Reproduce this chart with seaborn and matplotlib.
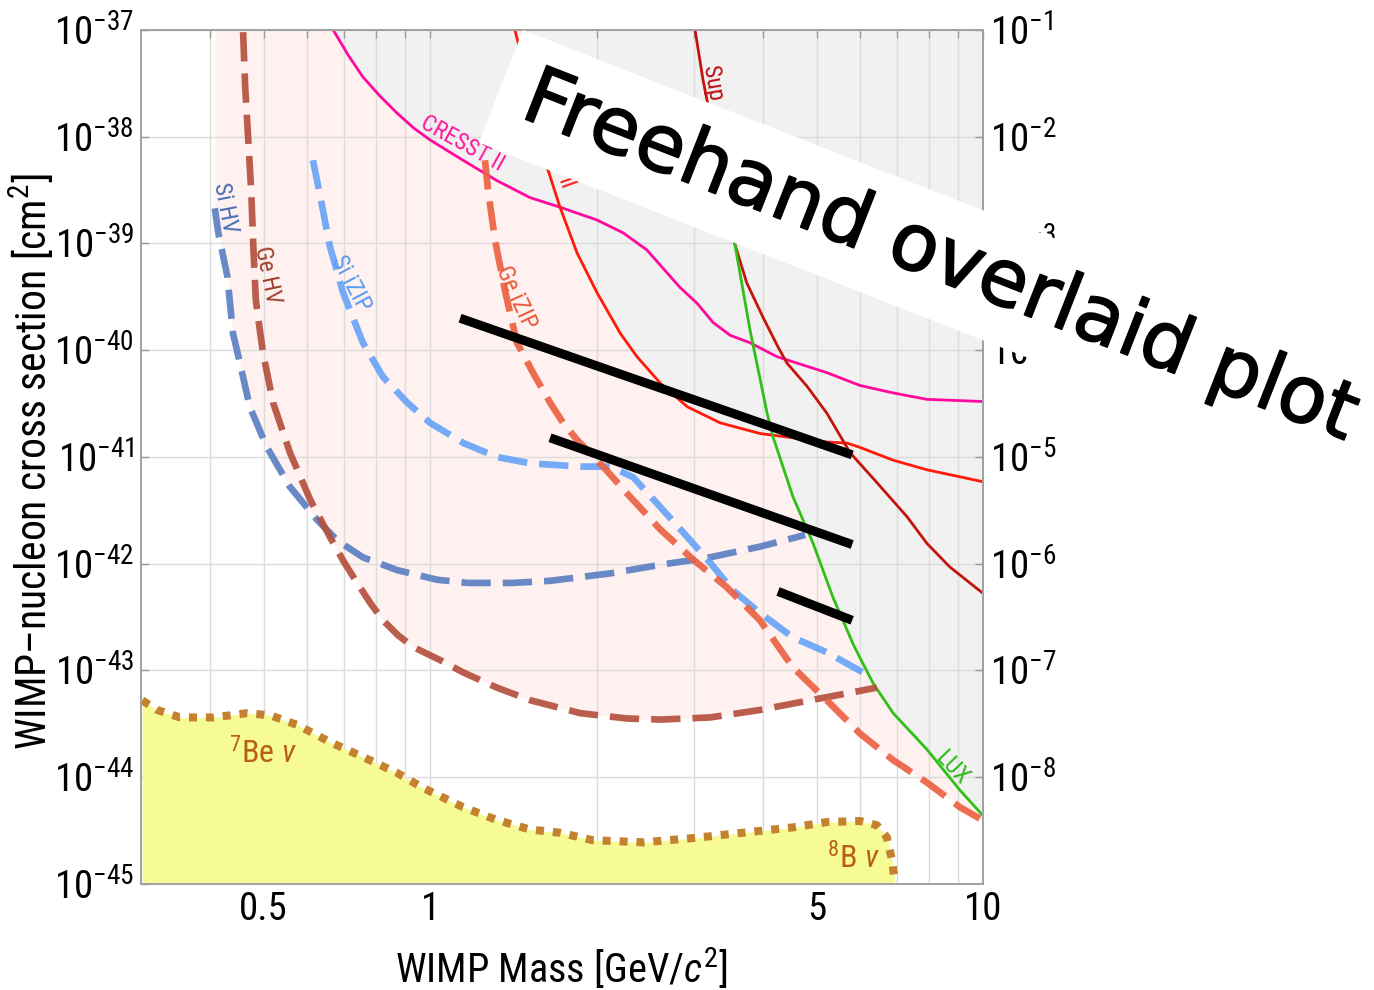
import numpy as np
import pandas as pd
import matplotlib
matplotlib.use("Agg")
import matplotlib.pyplot as plt
import matplotlib.patheffects as pe
from matplotlib import font_manager
from matplotlib.patches import Polygon
from matplotlib.ticker import NullLocator
import seaborn as sns

# ---- data: WIMP mass [GeV/c^2] and log10(cross section [cm^2]) ----
si_hv_mass = [0.408, 0.414, 0.430, 0.440, 0.453, 0.472, 0.507, 0.558, 0.625, 0.679, 0.756, 0.872,
              1.03, 1.17, 1.41, 1.65, 2.12, 2.61, 3.21, 3.95, 4.77]
si_hv_logsig = [-38.67, -38.90, -39.31, -39.84, -40.12, -40.53, -40.91, -41.28, -41.59, -41.78, -41.94, -42.06,
                -42.15, -42.18, -42.18, -42.16, -42.09, -42.01, -41.94, -41.84, -41.73]

ge_hv_mass = [0.459, 0.463, 0.469, 0.475, 0.479, 0.484, 0.493, 0.499, 0.520, 0.558, 0.607, 0.659, 0.698, 0.738,
              0.780, 0.822, 0.875, 0.932, 1.04, 1.15, 1.32, 1.52, 1.87, 2.27, 2.61, 3.21, 3.95, 4.86, 5.74, 6.43]
ge_hv_logsig = [-37.02, -37.53, -38.03, -38.53, -39.03, -39.53, -39.84, -40.03, -40.49, -40.96, -41.40, -41.75,
                -41.98, -42.18, -42.37, -42.53, -42.67, -42.78, -42.90, -43.02, -43.16, -43.28, -43.40, -43.45,
                -43.46, -43.44, -43.37, -43.28, -43.21, -43.16]

si_izip_mass = [0.614, 0.633, 0.659, 0.696, 0.756, 0.822, 0.909, 1.0, 1.15, 1.32, 1.52, 1.87, 2.12, 2.33,
                2.61, 2.92, 3.21, 3.53, 3.95, 4.53, 5.22, 6.17]
si_izip_logsig = [-38.22, -38.56, -39.03, -39.46, -39.93, -40.25, -40.49, -40.68, -40.87, -41.00, -41.06, -41.09,
                  -41.09, -41.19, -41.47, -41.75, -41.99, -42.25, -42.46, -42.69, -42.83, -43.04]

ge_izip_mass = [1.257, 1.273, 1.311, 1.366, 1.436, 1.535, 1.648, 1.740, 1.845, 2.056, 2.27, 2.61, 2.99, 3.44,
                3.95, 4.53, 5.22, 5.99, 6.88, 7.92, 9.08, 9.96]
ge_izip_logsig = [-38.22, -38.50, -38.97, -39.44, -39.93, -40.21, -40.49, -40.68, -40.84, -41.09, -41.34, -41.68,
                  -41.96, -42.22, -42.53, -42.97, -43.28, -43.59, -43.84, -44.05, -44.28, -44.40]

cresst_mass = [0.668, 0.712, 0.756, 0.812, 0.872, 0.935, 1.0, 1.147, 1.32, 1.516, 1.718, 2.004, 2.234, 2.466,
               2.83, 3.04, 3.25, 3.49, 3.79, 4.24, 5.22, 5.99, 6.88, 7.92, 9.96]
cresst_logsig = [-37.00, -37.24, -37.44, -37.62, -37.78, -37.92, -38.03, -38.22, -38.41, -38.57, -38.66, -38.78,
                 -38.90, -39.06, -39.41, -39.56, -39.74, -39.86, -39.93, -40.06, -40.21, -40.33, -40.40, -40.46,
                 -40.48]

cdmslite_mass = [1.424, 1.443, 1.516, 1.634, 1.718, 1.845, 2.004, 2.207, 2.367, 2.61, 2.92, 3.346, 3.95, 4.53,
                 5.22, 5.68, 5.99, 6.88, 7.92, 9.96]
cdmslite_logsig = [-37.00, -37.12, -37.66, -38.31, -38.66, -39.09, -39.46, -39.84, -40.06, -40.31, -40.53, -40.68,
                   -40.78, -40.82, -40.86, -40.87, -40.91, -41.03, -41.12, -41.23]

supercdms_mass = [3.015, 3.117, 3.17, 3.346, 3.56, 3.74, 4.00, 4.26, 4.42, 4.81, 5.22, 5.75, 6.43, 7.29, 7.92,
                  8.71, 9.96]
supercdms_logsig = [-37.00, -37.47, -37.66, -38.31, -39.01, -39.37, -39.69, -39.97, -40.12, -40.34, -40.59, -40.96,
                    -41.24, -41.56, -41.81, -42.03, -42.27]

lux_mass = [3.43, 3.56, 3.79, 4.07, 4.17, 4.53, 4.93, 5.35, 5.82, 5.99, 6.33, 6.88, 7.92, 9.08, 9.96]
lux_logsig = [-38.41, -39.01, -39.81, -40.59, -40.81, -41.37, -41.81, -42.31, -42.75, -42.88, -43.12, -43.40,
              -43.74, -44.12, -44.35]

nu_mass = [0.3015, 0.321, 0.353, 0.405, 0.467, 0.514, 0.575, 0.659, 0.756, 0.872, 0.971, 1.147, 1.32, 1.516,
           1.718, 1.97, 2.43, 2.99, 3.68, 4.53, 5.22, 5.99, 6.43, 6.70, 6.85, 6.93]
nu_logsig = [-43.28, -43.37, -43.44, -43.44, -43.40, -43.42, -43.51, -43.67, -43.81, -43.96, -44.10, -44.28,
             -44.40, -44.49, -44.52, -44.59, -44.61, -44.57, -44.52, -44.47, -44.42, -44.41, -44.45, -44.56,
             -44.78, -44.99]

# freehand black strokes (start / end)
stroke_mass = [[1.133, 5.80], [1.648, 5.80], [4.26, 5.80]]
stroke_logsig = [[-39.70, -40.98], [-40.82, -41.82], [-42.26, -42.53]]

x_ticks = [0.4, 0.5, 0.6, 0.7, 0.8, 0.9, 1, 2, 3, 4, 5, 6, 7, 8, 9, 10]
x_ticklabels = ["", "0.5", "", "", "", "", "1", "", "", "", "5", "", "", "", "", "10"]
y_exponents = [-45, -44, -43, -42, -41, -40, -39, -38, -37]
pb_exponents = [-8, -7, -6, -5, -4, -3, -2, -1]

# ---- fonts ----
available = {f.name for f in font_manager.fontManager.ttflist}
narrow = next((f for f in ["Liberation Sans Narrow", "Roboto Condensed", "Liberation Sans"] if f in available),
              "DejaVu Sans")
sns.set_style("white")
plt.rcParams["font.family"] = [narrow, "DejaVu Sans"]
plt.rcParams["mathtext.fontset"] = "custom"
plt.rcParams["mathtext.rm"] = narrow
plt.rcParams["mathtext.it"] = narrow + ":italic"
plt.rcParams["mathtext.bf"] = narrow + ":bold"
plt.rcParams["text.color"] = "black"

fig = plt.figure(figsize=(13.74, 9.9), dpi=100)
ax = fig.add_axes([0.1026, 0.1071, 0.6128, 0.8626])
ax.set_xscale("log")
ax.set_yscale("log")
ax.set_xlim(0.3, 10)
ax.set_ylim(1e-45, 1e-37)
ax.set_axisbelow(True)

# ---- shaded regions from envelopes ----
grid = np.linspace(np.log10(0.3), 1.0, 1500)


def on_grid(mass, logsig, left=-30.0, right=-30.0):
    return np.interp(grid, np.log10(mass), logsig, left=left, right=right)


pink_env = np.min([on_grid(si_hv_mass, si_hv_logsig), on_grid(ge_hv_mass, ge_hv_logsig),
                   on_grid(si_izip_mass, si_izip_logsig), on_grid(ge_izip_mass, ge_izip_logsig)], axis=0)
grey_env = np.min([on_grid(cresst_mass, cresst_logsig, left=-36.0), on_grid(cdmslite_mass, cdmslite_logsig),
                   on_grid(supercdms_mass, supercdms_logsig), on_grid(lux_mass, lux_logsig)], axis=0)
xm = 10.0 ** grid
ax.fill_between(xm, 10.0 ** pink_env, 1e-37, where=pink_env < -37, color="#fff1ef", lw=0, zorder=0.2)
ax.fill_between(xm, 10.0 ** grey_env, 1e-37, where=grey_env < -37, color="#f1f1f1", lw=0, zorder=0.3)
ax.fill_between(nu_mass, 1e-45, 10.0 ** np.array(nu_logsig), color="#f6fb96", lw=0, zorder=0.8)


def draw(mass, logsig, **kw):
    df = pd.DataFrame({"mass": mass, "sigma": 10.0 ** np.asarray(logsig)})
    sns.lineplot(data=df, x="mass", y="sigma", ax=ax, sort=False, estimator=None, legend=False, **kw)


# solid limits
draw(cresst_mass, cresst_logsig, color="#ff0a9c", linewidth=2.0, zorder=2)
draw(cdmslite_mass, cdmslite_logsig, color="#ff1a0a", linewidth=2.0, zorder=2)
draw(supercdms_mass, supercdms_logsig, color="#c4140c", linewidth=2.0, zorder=2)
draw(lux_mass, lux_logsig, color="#2ec016", linewidth=2.0, zorder=2)

# projected sensitivities (dashed)
dash = (0, (4.4, 1.8))
for m, s, c in [(si_hv_mass, si_hv_logsig, "#5b80c2"), (ge_hv_mass, ge_hv_logsig, "#b5503e"),
                (si_izip_mass, si_izip_logsig, "#68a4f7"), (ge_izip_mass, ge_izip_logsig, "#ec6244")]:
    draw(m, s, color=c, linewidth=4.8, linestyle=dash, alpha=0.92, dash_capstyle="butt", zorder=3)

# neutrino floor
draw(nu_mass, nu_logsig, color="#c4822f", linewidth=5.8, linestyle=(0, (1.0, 1.1)),
     dash_capstyle="butt", zorder=3)

# freehand strokes
for sm, sl in zip(stroke_mass, stroke_logsig):
    draw(sm, sl, color="black", linewidth=6.5, solid_capstyle="butt", zorder=4)

# curve labels
lab = dict(fontsize=17, ha="center", va="center", rotation_mode="anchor", zorder=5)
ax.text(0.426, 10 ** -38.67, "Si HV", color="#4a6fb5", rotation=-79, **lab)
ax.text(0.507, 10 ** -39.30, "Ge HV", color="#a0402c", rotation=-78, **lab)
ax.text(0.720, 10 ** -39.37, "Si iZIP", color="#5a9af0", rotation=-62, **lab)
ax.text(1.431, 10 ** -39.51, "Ge iZIP", color="#e85a3a", rotation=-65, **lab)
ax.text(1.143, 10 ** -38.06, "CRESST II", color="#ff1aa0", rotation=-29, **lab)
ax.text(8.79, 10 ** -43.91, "LUX", color="#2db91a", rotation=-46, **lab)
ax.text(3.236, 10 ** -37.50, "Sup", color="#c01010", rotation=-80, **lab)
ax.text(1.754, 10 ** -38.44, "II", color="#ff2020", rotation=-70, **lab)
ax.text(0.499, 10 ** -43.77, r"$^7$Be $\nu$", color="#b8600e", fontsize=23, ha="center", va="center", zorder=5)
ax.text(5.82, 10 ** -44.76, r"$^8$B $\nu$", color="#b8600e", fontsize=23, ha="center", va="center", zorder=5)

# ---- axes styling ----
ax.set_xticks(x_ticks, labels=x_ticklabels)
ax.xaxis.set_minor_locator(NullLocator())
ax.set_yticks([10.0 ** e for e in y_exponents], labels=[f"$10^{{{e}}}$" for e in y_exponents])
ax.yaxis.set_minor_locator(NullLocator())
ax.grid(True, which="major", color="#dcdcdc", linewidth=1.0)
ax.tick_params(axis="both", which="both", direction="in", length=6, width=1, color="#9a9a9a",
               labelcolor="black", labelsize=28, top=True, right=False, pad=5)
ax.set_xlabel("")
ax.set_ylabel("")
for sp in ax.spines.values():
    sp.set_color("#a0a0a0")
    sp.set_linewidth(1.2)

ax2 = ax.twinx()
ax2.set_yscale("log")
ax2.set_ylim(1e-9, 1e-1)
ax2.set_yticks([10.0 ** e for e in pb_exponents], labels=[f"$10^{{{e}}}$" for e in pb_exponents])
ax2.yaxis.set_minor_locator(NullLocator())
ax2.tick_params(axis="y", which="both", direction="in", length=6, width=1, color="#9a9a9a",
                labelcolor="black", labelsize=28, pad=5)
for sp in ax2.spines.values():
    sp.set_color("#a0a0a0")
    sp.set_linewidth(1.2)

fig.text(32 / 1374, 1 - 462 / 990, r"WIMP–nucleon cross section [cm$^2$]", rotation=90,
         ha="center", va="center", fontsize=30, color="black")
fig.text(561 / 1374, 1 - 968 / 990, r"WIMP Mass [GeV/$c^2$]", ha="center", va="center", fontsize=29,
         color="black")

# ---- freehand overlay banner ----
ang = np.deg2rad(21.4)
u = np.array([np.cos(ang), np.sin(ang)])
n = np.array([-np.sin(ang), np.cos(ang)])
a = np.array([523.0, 30.0])
corners = [a, a + 1000 * u, a + 1000 * u + 121 * n, a + 121 * n]
banner = Polygon([(c[0] / 1374, 1 - c[1] / 990) for c in corners], closed=True, transform=fig.transFigure,
                 facecolor="white", edgecolor="none", zorder=20)
fig.add_artist(banner)
fig.text(940 / 1374, 1 - 258 / 990, "Freehand overlaid plot", rotation=-21.4, rotation_mode="anchor",
         ha="center", va="center", fontsize=57, family="DejaVu Sans", color="black", zorder=21,
         path_effects=[pe.withStroke(linewidth=1.2, foreground="black")])

fig.savefig("out.png", dpi=100, facecolor="white")
